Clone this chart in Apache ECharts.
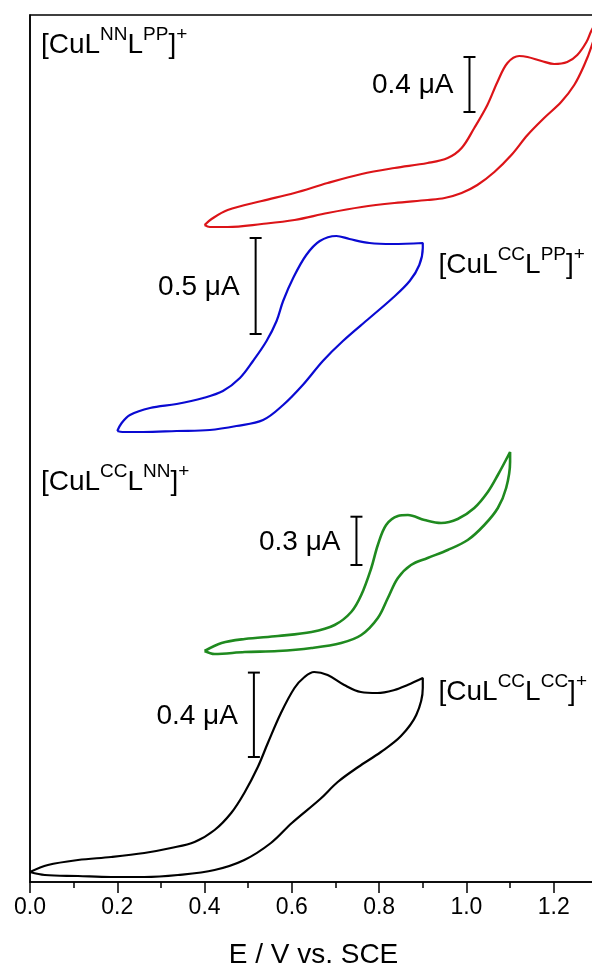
<!DOCTYPE html>
<html>
<head>
<meta charset="utf-8">
<script src="https://cdn.jsdelivr.net/npm/echarts@6/dist/echarts.min.js"></script>
<style>
  html, body { margin: 0; padding: 0; background: #fff; }
  #chart { width: 592px; height: 965px; }
</style>
</head>
<body>
<div id="chart"></div>
<script>
// Cyclic voltammograms, [E (V vs. SCE), offset current (stacked plot units)].
// Each loop runs along the forward sweep and then back along the return sweep.
const cvNNPP = [
  [0.400,657],[0.416,663],[0.453,672],[0.531,681],[0.606,689],[0.682,699],[0.760,708],
  [0.835,714],[0.911,719],[0.957,724],[0.989,734],[1.018,754],[1.048,777],[1.071,800],
  [1.094,819],[1.121,826],[1.140,825],[1.172,821],[1.201,818],[1.231,820],[1.254,827],
  [1.275,840],[1.286,851],[1.300,862],
  [1.300,858],[1.286,835],[1.270,817],[1.247,797],[1.217,780],[1.178,764],[1.140,747],
  [1.103,727],[1.064,710],[1.025,697],[0.989,689],[0.950,684],[0.911,682],[0.835,679],
  [0.760,675],[0.682,669],[0.606,662],[0.531,658],[0.453,655],[0.412,655],[0.400,657]
];
const cvCCPP = [
  [0.200,451],[0.210,459],[0.229,467],[0.275,474],[0.336,478],[0.397,484],[0.442,491],
  [0.481,504],[0.511,521],[0.542,541],[0.565,561],[0.580,581],[0.603,604],[0.633,627],
  [0.664,641],[0.702,646],[0.732,643],[0.778,639],[0.831,638],[0.900,639],
  [0.900,634],[0.892,617],[0.870,601],[0.831,584],[0.778,564],[0.717,541],[0.671,521],
  [0.625,497],[0.580,477],[0.534,462],[0.473,456],[0.412,452],[0.336,451],[0.259,450],
  [0.212,450],[0.200,451]
];
const cvCCNN = [
  [0.400,231],[0.439,239],[0.492,243],[0.568,246],[0.645,250],[0.698,257],[0.736,270],
  [0.759,287],[0.782,314],[0.797,337],[0.816,357],[0.843,366],[0.866,367],[0.904,362],
  [0.942,359],[0.980,363],[1.018,374],[1.049,390],[1.072,407],[1.100,430],
  [1.100,420],[1.091,394],[1.072,374],[1.041,357],[1.003,342],[0.957,332],[0.911,324],
  [0.873,317],[0.843,304],[0.820,284],[0.797,264],[0.759,247],[0.713,239],[0.645,234],
  [0.568,231],[0.492,230],[0.423,228],[0.400,231]
];
const cvCCCC = [
  [0.000,10],[0.041,17],[0.110,22],[0.186,25],[0.262,29],[0.323,34],[0.377,40],
  [0.423,52],[0.461,69],[0.491,89],[0.522,115],[0.545,139],[0.575,169],[0.606,194],
  [0.629,205],[0.651,210],[0.682,207],[0.720,197],[0.758,190],[0.796,189],[0.835,192],
  [0.865,197],[0.900,204],
  [0.900,194],[0.885,167],[0.850,146],[0.804,130],[0.752,115],[0.705,100],[0.665,83],
  [0.600,59],[0.552,39],[0.491,22],[0.423,12],[0.339,7],[0.262,5],[0.186,5],
  [0.110,6],[0.034,7],[0.000,10]
];

// Ligand superscripts of each complex [CuL^a L^b]+, in the order of the curves above
const complexLigands = [['NN','PP'], ['CC','PP'], ['CC','NN'], ['CC','CC']];
// Where each complex name sits, in axis units
const nameE = [0.025, 0.936, 0.025, 0.936];
const nameY = [840, 620, 403, 193];

// Current scale bars: length in µA, plot units per µA of that curve, and anchor
const barCurrent = [0.4, 0.5, 0.3, 0.4];
const unitsPerMicroAmp = [137.5, 192, 161, 211];
const barE = [1.007, 0.517, 0.748, 0.513];
const barBase = [770, 548, 317, 125];

const xTickStep = 0.2;
const xMin = 0, xMax = 1.4;

const FONT = '"Liberation Sans", Arial, Helvetica, sans-serif';
const curveColors = ['#dc1418', '#0a0ad2', '#1f8a1f', '#000000'];

const chart = echarts.init(document.getElementById('chart'), null, { renderer: 'canvas' });

const curves = [cvNNPP, cvCCPP, cvCCNN, cvCCCC];
const curveSeries = curves.map((d, i) => ({
  type: 'line',
  data: d,
  showSymbol: false,
  smooth: 0.35,
  lineStyle: { color: curveColors[i], width: i === 2 ? 2.6 : 2.2 },
  z: 3,
  animation: false
}));

const nameSeries = {
  type: 'custom',
  data: nameE.map((e, i) => [e, nameY[i], i]),
  encode: { x: 0, y: 1 },
  clip: false,
  z: 5,
  renderItem(params, api) {
    const p = api.coord([api.value(0), api.value(1)]);
    const lig = complexLigands[api.value(2)];
    return {
      type: 'text',
      style: {
        x: p[0], y: p[1],
        text: '{m|[CuL}{s|' + lig[0] + '}{m|L}{s|' + lig[1] + '}{m|]}{s|+}',
        align: 'left', verticalAlign: 'middle',
        rich: {
          m: { fontSize: 28, fontFamily: FONT, color: '#000', lineHeight: 34, verticalAlign: 'bottom' },
          s: { fontSize: 19, fontFamily: FONT, color: '#000', lineHeight: 16, verticalAlign: 'top' }
        }
      }
    };
  }
};

const barSeries = {
  type: 'custom',
  data: barE.map((e, i) => [e, barBase[i], barCurrent[i], unitsPerMicroAmp[i]]),
  encode: { x: 0, y: 1 },
  clip: false,
  z: 5,
  renderItem(params, api) {
    const e = api.value(0), base = api.value(1), amp = api.value(2), k = api.value(3);
    const bot = api.coord([e, base]);
    const top = api.coord([e, base + amp * k]);
    const cap = 6;
    const stroke = { stroke: '#000', lineWidth: 2 };
    return {
      type: 'group',
      children: [
        { type: 'line', shape: { x1: bot[0], y1: bot[1], x2: top[0], y2: top[1] }, style: stroke },
        { type: 'line', shape: { x1: top[0] - cap, y1: top[1], x2: top[0] + cap, y2: top[1] }, style: stroke },
        { type: 'line', shape: { x1: bot[0] - cap, y1: bot[1], x2: bot[0] + cap, y2: bot[1] }, style: stroke },
        {
          type: 'text',
          style: {
            x: bot[0] - 16, y: (top[1] + bot[1]) / 2 + 1,
            text: amp.toFixed(1) + ' μA',
            align: 'right', verticalAlign: 'middle',
            font: '28px ' + FONT, fill: '#000'
          }
        }
      ]
    };
  }
};

chart.setOption({
  animation: false,
  backgroundColor: '#fff',
  grid: {
    left: 30, top: 15, width: 611, height: 867,
    outerBoundsMode: 'none',
    containLabel: false,
    show: true, borderColor: '#000', borderWidth: 1.5, backgroundColor: 'transparent'
  },
  xAxis: {
    type: 'value',
    min: xMin, max: xMax, interval: xTickStep,
    axisLine: { show: true, lineStyle: { color: '#000', width: 1.5 } },
    axisTick: { show: true, length: 11, lineStyle: { color: '#000', width: 1.5 } },
    minorTick: { show: true, splitNumber: 2, length: 6, lineStyle: { color: '#000', width: 1.5 } },
    splitLine: { show: false },
    axisLabel: {
      formatter: v => v.toFixed(1),
      fontSize: 23, fontFamily: FONT, color: '#000', margin: 14
    },
    name: 'E / V vs. SCE',
    nameLocation: 'middle',
    nameGap: 59,
    nameTextStyle: { fontSize: 28, fontFamily: FONT, color: '#000', padding: [0, 44, 0, 0] }
  },
  yAxis: {
    type: 'value',
    min: 0, max: 867,
    axisLine: { show: true, lineStyle: { color: '#000', width: 1.5 } },
    axisTick: { show: false },
    axisLabel: { show: false },
    splitLine: { show: false }
  },
  series: [...curveSeries, nameSeries, barSeries]
});
</script>
</body>
</html>
